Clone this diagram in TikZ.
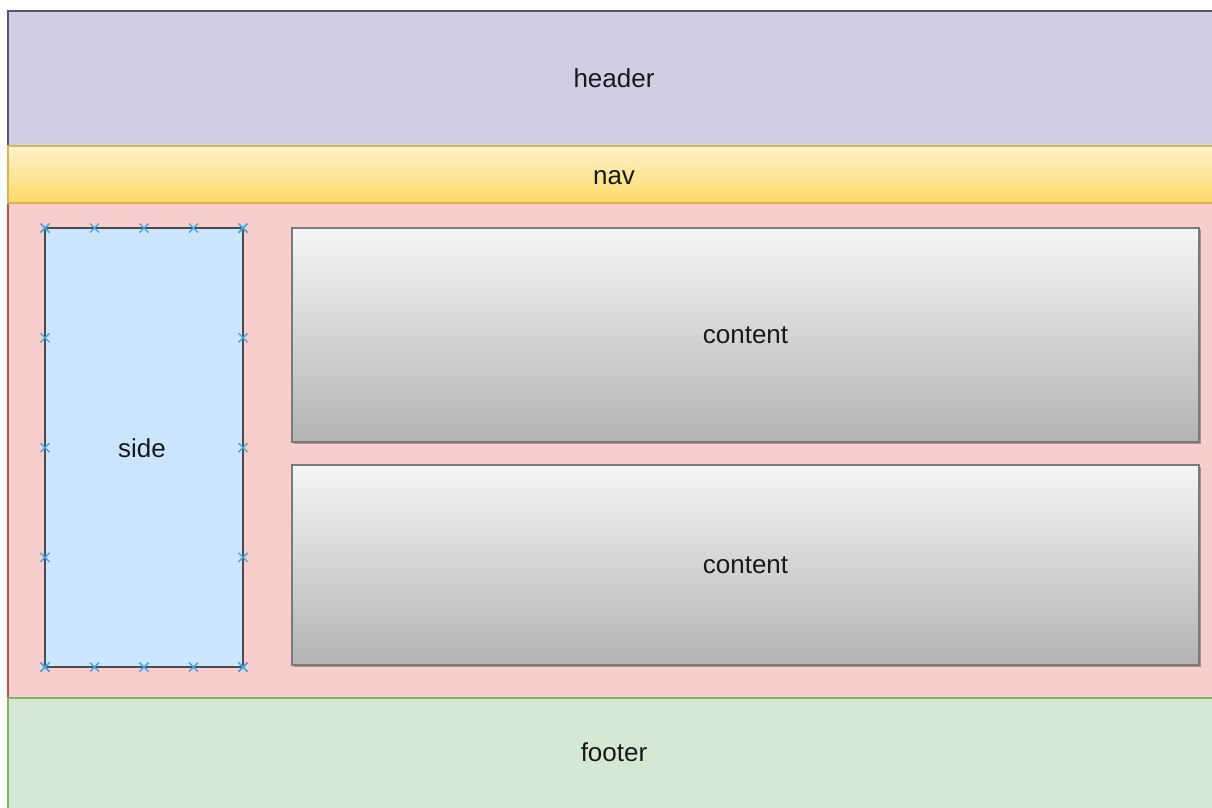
\documentclass[tikz,border=0pt]{standalone}
\usepackage{fontspec}
\setmainfont{Liberation Sans}
\usetikzlibrary{calc,shadows}
\definecolor{hdrfill}{HTML}{D0CEE2}
\definecolor{hdrline}{HTML}{56517E}
\definecolor{navtop}{HTML}{FFF2CC}
\definecolor{navbot}{HTML}{FFD966}
\definecolor{navline}{HTML}{D6B656}
\definecolor{pinkfill}{HTML}{F8CECC}
\definecolor{pinkline}{HTML}{B85450}
\definecolor{ftfill}{HTML}{D5E8D4}
\definecolor{ftline}{HTML}{82B366}
\definecolor{sidefill}{HTML}{CCE5FF}
\definecolor{sideline}{HTML}{4A4A50}
\definecolor{cttop}{HTML}{F5F5F5}
\definecolor{ctbot}{HTML}{B3B3B3}
\definecolor{ctline}{HTML}{7A7A7A}
\definecolor{mark}{HTML}{3EA7E0}
\tikzset{
  x=1pt, y=-1pt,
  band/.style={rectangle, inner sep=0pt, outer sep=0pt, line width=1.5pt,
    font=\fontsize{26}{30}\selectfont, text=black!90},
  ctbox/.style={band, draw=ctline, top color=cttop, bottom color=ctbot,
    drop shadow={opacity=0.3, shadow xshift=2pt, shadow yshift=-2pt, fill=black}},
  xmark/.style={draw=mark, line width=1.4pt},
}
\begin{document}
\begin{tikzpicture}
\useasboundingbox (0,0) rectangle (1212,807);
\clip (0,0) rectangle (1212,807);
\node[band, draw=hdrline, fill=hdrfill, minimum width=1212, minimum height=135] (header) at (614,78.5) {header};
\node[band, draw=pinkline, fill=pinkfill, minimum width=1212, minimum height=495] (main) at (614,450.5) {};
\node[band, draw=ftline, fill=ftfill, minimum width=1212, minimum height=120] (footer) at (614,758) {};
\node[band] (footertext) at (614,752) {footer};
\node[band, draw=navline, top color=navtop, bottom color=navbot, minimum width=1212, minimum height=57] (nav) at (614,174.5) {};
\node[band] (navtext) at (614,178) {nav};
\node[band, draw=sideline, fill=sidefill, line width=2.2pt, minimum width=198, minimum height=439] (side) at (144,447.5) {};
\node[band] (sidetext) at (142,448) {side};
\node[ctbox, minimum width=907, minimum height=214] (content1) at (745.5,335) {content};
\node[ctbox, minimum width=907, minimum height=200] (content2) at (745.5,565) {content};
\foreach \f in {0,0.25,0.5,0.75,1}{
  \foreach \a/\b in {north west/north east, south west/south east, north west/south west, north east/south east}{
    \coordinate (m) at ($(side.\a)!\f!(side.\b)$);
    \draw[xmark] ($(m)+(-4.5,-4.5)$) -- ($(m)+(4.5,4.5)$) ($(m)+(-4.5,4.5)$) -- ($(m)+(4.5,-4.5)$);
  }
}
\end{tikzpicture}
\end{document}
